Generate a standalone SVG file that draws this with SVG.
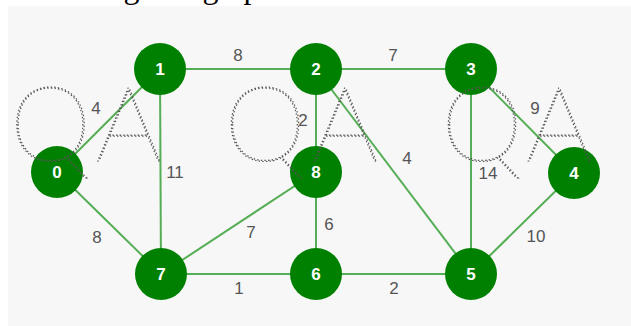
<svg xmlns="http://www.w3.org/2000/svg" width="631" height="326" viewBox="0 0 631 326">
<style>
.edge{stroke:#55ad55;stroke-width:2;fill:none}
.node circle{fill:#008000}
.node text{fill:#fff;font-family:"Liberation Sans",Arial,sans-serif;font-weight:bold;font-size:17px;text-anchor:middle;dominant-baseline:central}
.lbl{fill:#555;font-family:"Liberation Sans",Arial,sans-serif;font-size:17px;text-anchor:middle;dominant-baseline:central}
.wm{fill:none;stroke:#555;stroke-width:1.2;stroke-dasharray:1.4 2.2;font-family:Lato,sans-serif;font-weight:100;font-size:104px;text-anchor:middle}
</style>
<rect x="0" y="0" width="631" height="326" fill="#fff"/>
<text x="72.7" y="-2.5" font-family="Liberation Serif,serif" font-size="32" fill="#000">Weighted graph</text>
<rect x="8" y="6" width="623" height="320" fill="#f7f7f7"/>
<g id="edges">
<line class="edge" x1="57" y1="172" x2="160" y2="69"/>
<line class="edge" x1="57" y1="172" x2="161" y2="274"/>
<line class="edge" x1="160" y1="69" x2="316" y2="69"/>
<line class="edge" x1="160" y1="69" x2="161" y2="274"/>
<line class="edge" x1="316" y1="69" x2="471" y2="69"/>
<line class="edge" x1="316" y1="69" x2="316" y2="172"/>
<line class="edge" x1="316" y1="69" x2="471" y2="274"/>
<line class="edge" x1="471" y1="69" x2="574" y2="173"/>
<line class="edge" x1="471" y1="69" x2="471" y2="274"/>
<line class="edge" x1="574" y1="173" x2="471" y2="274"/>
<line class="edge" x1="161" y1="274" x2="316" y2="172"/>
<line class="edge" x1="316" y1="172" x2="316" y2="274"/>
<line class="edge" x1="161" y1="274" x2="316" y2="274"/>
<line class="edge" x1="316" y1="274" x2="471" y2="274"/>
</g>
<g id="edge-labels">
<text class="lbl" x="96" y="108">4</text>
<text class="lbl" x="97" y="237">8</text>
<text class="lbl" x="238" y="55">8</text>
<text class="lbl" x="175" y="172">11</text>
<text class="lbl" x="393" y="55">7</text>
<text class="lbl" x="303" y="120">2</text>
<text class="lbl" x="407" y="158">4</text>
<text class="lbl" x="535" y="108">9</text>
<text class="lbl" x="488" y="173">14</text>
<text class="lbl" x="536" y="236">10</text>
<text class="lbl" x="251" y="232">7</text>
<text class="lbl" x="329" y="224">6</text>
<text class="lbl" x="239" y="288">1</text>
<text class="lbl" x="394" y="288">2</text>
</g>
<g id="n0" class="node"><circle cx="57" cy="172" r="26"/><text x="57" y="172">0</text></g>
<g id="n1" class="node"><circle cx="160" cy="69" r="26"/><text x="160" y="69">1</text></g>
<g id="n2" class="node"><circle cx="316" cy="69" r="26"/><text x="316" y="69">2</text></g>
<g id="n3" class="node"><circle cx="471" cy="69" r="26"/><text x="471" y="69">3</text></g>
<g id="n4" class="node"><circle cx="574" cy="173" r="26"/><text x="574" y="173">4</text></g>
<g id="n5" class="node"><circle cx="471" cy="274" r="26"/><text x="471" y="274">5</text></g>
<g id="n6" class="node"><circle cx="316" cy="274" r="26"/><text x="316" y="274">6</text></g>
<g id="n7" class="node"><circle cx="161" cy="274" r="26"/><text x="161" y="274">7</text></g>
<g id="n8" class="node"><circle cx="316" cy="172" r="26"/><text x="316" y="172">8</text></g>
<g id="watermark">
<text class="wm" x="50.5 128.5" y="161">QA</text>
<text class="wm" x="265 345" y="161">QA</text>
<text class="wm" x="482 559" y="161">QA</text>
</g>
</svg>
